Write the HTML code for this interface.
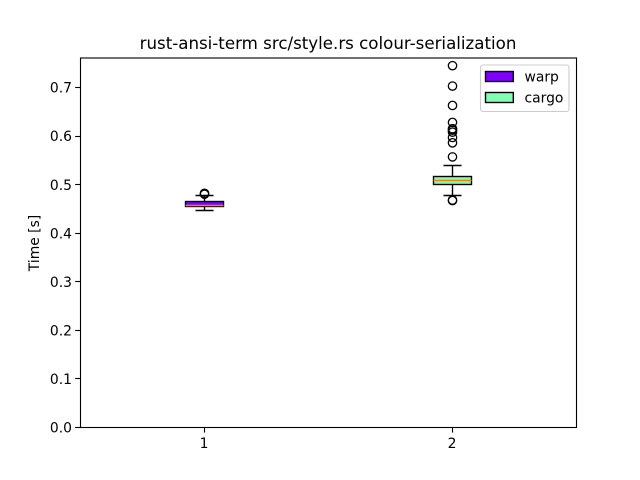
<!DOCTYPE html>
<html>
<head>
<meta charset="utf-8">
<style>
html,body{margin:0;padding:0;background:#fff;}
svg{display:block;}
text{font-family:"DejaVu Sans","Liberation Sans",sans-serif;fill:#000;}
</style>
</head>
<body>
<svg id="chart" xmlns="http://www.w3.org/2000/svg" width="640" height="480" viewBox="0 0 640 480">
<rect x="0" y="0" width="640" height="480" fill="#fff"/>
<text x="328" y="49" font-size="16.67" text-anchor="middle">rust-ansi-term src/style.rs colour-serialization</text>
<text transform="translate(39,243) rotate(-90)" font-size="13.89" text-anchor="middle">Time [s]</text>
<g id="marks"></g>
<rect x="80.5" y="58" width="496" height="369.5" fill="none" stroke="#000" stroke-width="1.11"/>
<g id="axes"></g>
<g>
<rect x="480.5" y="65" width="88.5" height="46.5" rx="2.5" fill="#fff" fill-opacity="0.8" stroke="#ccc" stroke-width="1.11"/>
<rect x="485.5" y="71.5" width="27.8" height="10" fill="#8000ff" stroke="#000" stroke-width="1.39"/>
<text x="524.5" y="81.5" font-size="13.89">warp</text>
<rect x="485.5" y="92.5" width="27.8" height="10" fill="#80ffb4" stroke="#000" stroke-width="1.39"/>
<text x="524.5" y="102.5" font-size="13.89">cargo</text>
</g>
</svg>
<script>
const categories = ['1', '2'];
const seriesNames = ['warp', 'cargo'];
const seriesColors = ['#8000ff', '#80ffb4'];
const whiskerLow = [0.4475, 0.477];
const quartile1 = [0.4555, 0.500];
const medians = [0.4565, 0.508];
const quartile3 = [0.465, 0.517];
const whiskerHigh = [0.4774, 0.540];
const fliers = [
  [0.480, 0.482],
  [0.467, 0.468, 0.557, 0.586, 0.597, 0.608, 0.612, 0.615, 0.628, 0.663, 0.703, 0.745]
];
const yTickLabels = ['0.0', '0.1', '0.2', '0.3', '0.4', '0.5', '0.6', '0.7'];

const NS = 'http://www.w3.org/2000/svg';
const plot = {left: 80, right: 576, top: 57.6, bottom: 427.2};
const xMin = 0.5, xMax = 2.5, yMin = 0, yMax = 0.7616;
function xScale(v) { return plot.left + (v - xMin) / (xMax - xMin) * (plot.right - plot.left); }
function yScale(v) { return plot.bottom - (v - yMin) / (yMax - yMin) * (plot.bottom - plot.top); }
function snap(p) { return Math.floor(p) + 0.5; }
function make(tag, attrs, parent) {
  const el = document.createElementNS(NS, tag);
  for (const k in attrs) el.setAttribute(k, attrs[k]);
  parent.appendChild(el);
  return el;
}
const marks = document.getElementById('marks');
const axes = document.getElementById('axes');
const boxHalf = xScale(0.075) - xScale(0);
const capHalf = boxHalf / 2;

categories.forEach(function (cat, i) {
  const cxRaw = xScale(i + 1);
  const cx = snap(cxRaw);
  const stroke = {stroke: '#000', 'stroke-width': 1.39, fill: 'none'};
  const left = snap(cxRaw - boxHalf), right = 2 * cx - left;
  const capL = cx - Math.floor(capHalf), capR = cx + Math.floor(capHalf);
  const q1 = snap(yScale(quartile1[i])), q3 = snap(yScale(quartile3[i]));
  const wl = snap(yScale(whiskerLow[i])), wh = snap(yScale(whiskerHigh[i]));
  const my = snap(yScale(medians[i]));

  const group = make('g', {}, marks);
  
  

  const whiskLo = make('line', Object.assign({x1: cx, x2: cx, y1: q1, y2: wl}, stroke), group);
  
  

  const whiskHi = make('line', Object.assign({x1: cx, x2: cx, y1: q3, y2: wh}, stroke), group);
  
  

  const capLo = make('line', Object.assign({x1: capL, x2: capR, y1: wl, y2: wl}, stroke), group);
  
  

  const capHi = make('line', Object.assign({x1: capL, x2: capR, y1: wh, y2: wh}, stroke), group);
  
  

  const box = make('rect', {x: left, y: q3, width: right - left, height: q1 - q3, fill: seriesColors[i], stroke: '#000', 'stroke-width': 1.39}, group);
  
  

  const med = make('line', {x1: left, x2: right, y1: my, y2: my, stroke: '#ff7f0e', 'stroke-width': 1.39}, group);
  
  

  fliers[i].forEach(function (v) {
    const c = make('circle', {cx: cx, cy: yScale(v), r: 4.17, fill: 'none', stroke: '#000', 'stroke-width': 1.3}, group);
    
    
  });

  const tick = make('line', {x1: cx, x2: cx, y1: plot.bottom, y2: plot.bottom + 5.36, stroke: '#000', 'stroke-width': 1.11}, axes);
  
  

  const label = make('text', {x: cxRaw, y: plot.bottom + 20.6, 'font-size': 13.89, 'text-anchor': 'middle'}, axes);
  label.textContent = cat;
  
  
});

yTickLabels.forEach(function (t) {
  const yRaw = yScale(parseFloat(t));
  const y = snap(yRaw);
  const tick = make('line', {x1: plot.left - 4.86, x2: plot.left + 0.5, y1: y, y2: y, stroke: '#000', 'stroke-width': 1.11}, axes);
  
  

  const label = make('text', {x: plot.left - 8, y: yRaw + 5.2, 'font-size': 13.89, 'text-anchor': 'end'}, axes);
  label.textContent = t;
  
  
});
</script>
</body>
</html>
